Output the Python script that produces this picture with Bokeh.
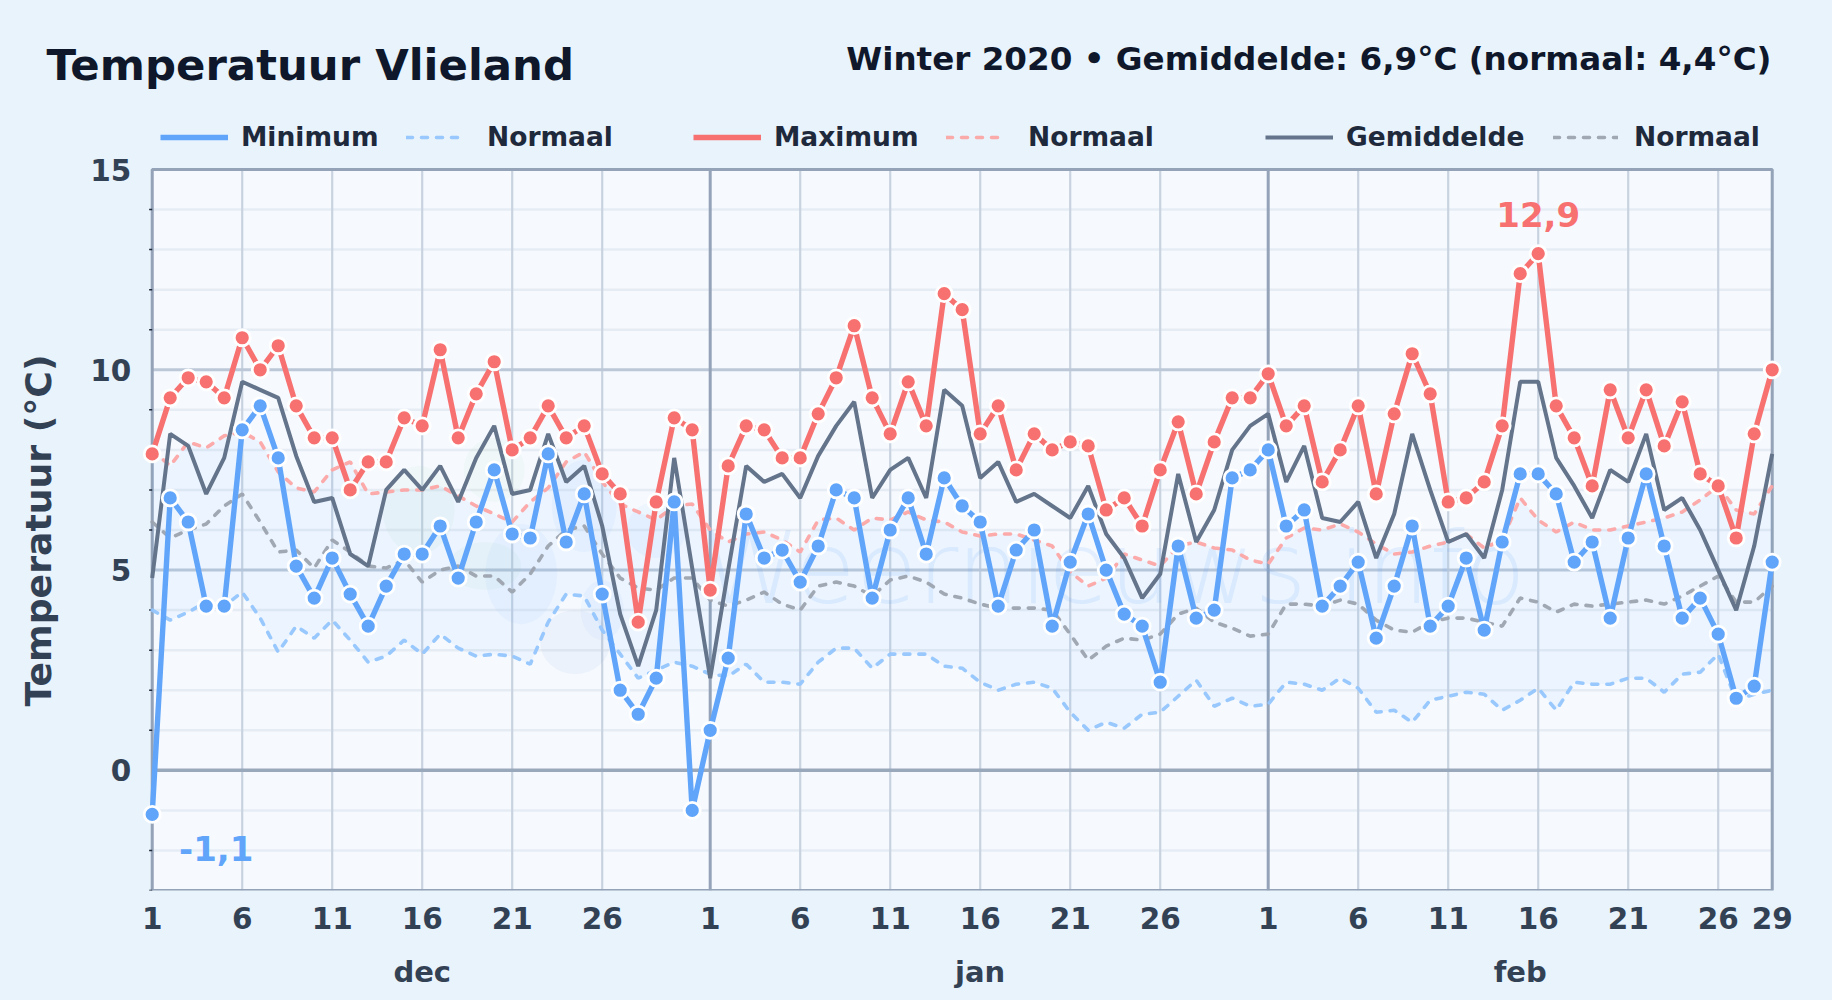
from math import pi
from bokeh.core.properties import value
from bokeh.embed import file_html
from bokeh.models import FixedTicker, Label, Legend, LegendItem, LinearAxis, Range1d
from bokeh.plotting import figure
from bokeh.resources import INLINE

FONT = "DejaVu Sans"
PAGE_BG = "#e8f3fc"

# ---- data -------------------------------------------------------------
t_min = [-1.1, 6.8, 6.2, 4.1, 4.1, 8.5, 9.1, 7.8, 5.1, 4.3, 5.3, 4.4, 3.6, 4.6, 5.4, 5.4, 6.1, 4.8, 6.2, 7.5, 5.9, 5.8, 7.9, 5.7, 6.9, 4.4, 2.0, 1.4, 2.3, 6.7, -1.0,
         1.0, 2.8, 6.4, 5.3, 5.5, 4.7, 5.6, 7.0, 6.8, 4.3, 6.0, 6.8, 5.4, 7.3, 6.6, 6.2, 4.1, 5.5, 6.0, 3.6, 5.2, 6.4, 5.0, 3.9, 3.6, 2.2, 5.6, 3.8, 4.0, 7.3, 7.5,
         8.0, 6.1, 6.5, 4.1, 4.6, 5.2, 3.3, 4.6, 6.1, 3.6, 4.1, 5.3, 3.5, 5.7, 7.4, 7.4, 6.9, 5.2, 5.7, 3.8, 5.8, 7.4, 5.6, 3.8, 4.3, 3.4, 1.8, 2.1, 5.2]
t_max = [7.9, 9.3, 9.8, 9.7, 9.3, 10.8, 10.0, 10.6, 9.1, 8.3, 8.3, 7.0, 7.7, 7.7, 8.8, 8.6, 10.5, 8.3, 9.4, 10.2, 8.0, 8.3, 9.1, 8.3, 8.6, 7.4, 6.9, 3.7, 6.7, 8.8, 8.5,
         4.5, 7.6, 8.6, 8.5, 7.8, 7.8, 8.9, 9.8, 11.1, 9.3, 8.4, 9.7, 8.6, 11.9, 11.5, 8.4, 9.1, 7.5, 8.4, 8.0, 8.2, 8.1, 6.5, 6.8, 6.1, 7.5, 8.7, 6.9, 8.2, 9.3, 9.3,
         9.9, 8.6, 9.1, 7.2, 8.0, 9.1, 6.9, 8.9, 10.4, 9.4, 6.7, 6.8, 7.2, 8.6, 12.4, 12.9, 9.1, 8.3, 7.1, 9.5, 8.3, 9.5, 8.1, 9.2, 7.4, 7.1, 5.8, 8.4, 10.0]
t_mean = [4.8, 8.4, 8.1, 6.9, 7.8, 9.7, 9.5, 9.3, 7.85, 6.7, 6.8, 5.4, 5.1, 7.0, 7.5, 7.0, 7.6, 6.7, 7.8, 8.6, 6.9, 7.0, 8.4, 7.2, 7.6, 6.1, 3.9, 2.6, 4.0, 7.8, 5.05,
          2.3, 5.0, 7.6, 7.2, 7.4, 6.8, 7.85, 8.6, 9.2, 6.8, 7.5, 7.8, 6.8, 9.5, 9.1, 7.3, 7.7, 6.7, 6.9, 6.6, 6.3, 7.1, 5.9, 5.3, 4.3, 4.9, 7.4, 5.7, 6.5, 8.0, 8.6,
          8.9, 7.2, 8.1, 6.3, 6.2, 6.7, 5.3, 6.4, 8.4, 7.0, 5.7, 5.9, 5.3, 7.0, 9.7, 9.7, 7.8, 7.1, 6.3, 7.5, 7.2, 8.4, 6.5, 6.8, 6.0, 5.0, 4.0, 5.6, 7.9]
n_min = [4.0, 3.75, 3.95, 4.2, 4.1, 4.45, 3.8, 2.95, 3.6, 3.3, 3.75, 3.25, 2.7, 2.85, 3.25, 2.9, 3.4, 3.05, 2.85, 2.9, 2.85, 2.65, 3.7, 4.4, 4.35, 3.5, 2.9, 2.3, 2.5, 2.7, 2.6,
         2.4, 2.35, 2.65, 2.2, 2.2, 2.15, 2.7, 3.05, 3.05, 2.55, 2.9, 2.9, 2.9, 2.6, 2.55, 2.2, 2.0, 2.15, 2.2, 2.05, 1.45, 1.0, 1.2, 1.05, 1.4, 1.45, 1.85, 2.25, 1.6, 1.8, 1.6,
         1.65, 2.2, 2.15, 2.0, 2.3, 2.05, 1.45, 1.5, 1.2, 1.75, 1.85, 1.95, 1.9, 1.5, 1.75, 2.05, 1.5, 2.2, 2.15, 2.15, 2.3, 2.3, 1.95, 2.4, 2.45, 2.9, 1.75, 1.9, 2.0]
n_max = [8.0, 7.6, 8.2, 8.05, 8.35, 8.45, 8.2, 7.45, 7.05, 6.95, 7.5, 7.7, 6.9, 6.95, 7.0, 7.0, 7.1, 6.85, 6.6, 6.4, 6.2, 6.7, 7.05, 7.7, 7.95, 7.2, 6.65, 6.45, 6.25, 6.6, 6.65,
         6.0, 5.7, 5.9, 5.95, 5.75, 5.45, 6.25, 6.3, 6.0, 6.3, 6.25, 6.45, 6.25, 6.2, 5.95, 5.85, 5.9, 5.9, 5.75, 5.6, 4.95, 4.6, 4.8, 5.4, 5.25, 5.1, 5.6, 5.7, 5.55, 5.5, 5.25,
         5.15, 5.8, 6.05, 6.0, 6.15, 5.95, 5.65, 5.4, 5.45, 5.6, 5.7, 5.9, 5.55, 5.75, 6.8, 6.25, 5.95, 6.2, 6.0, 6.0, 6.1, 6.2, 6.3, 6.45, 6.75, 7.1, 6.5, 6.4, 7.1]
n_mean = [6.2, 5.8, 6.0, 6.15, 6.6, 6.9, 6.2, 5.45, 5.5, 5.05, 5.75, 5.45, 5.1, 5.05, 5.25, 4.7, 5.0, 5.1, 4.85, 4.85, 4.45, 4.9, 5.6, 6.0, 6.1, 5.4, 4.8, 4.55, 4.5, 4.8, 4.8,
          4.25, 4.1, 4.25, 4.45, 4.15, 4.0, 4.6, 4.7, 4.6, 4.35, 4.75, 4.85, 4.7, 4.4, 4.3, 4.15, 4.05, 4.05, 4.05, 4.0, 3.4, 2.75, 3.1, 3.3, 3.25, 3.4, 3.9, 4.05, 3.7, 3.55, 3.35,
          3.4, 4.15, 4.15, 4.1, 4.25, 4.15, 3.75, 3.5, 3.45, 3.7, 3.8, 3.8, 3.7, 3.6, 4.3, 4.2, 3.95, 4.15, 4.1, 4.15, 4.2, 4.25, 4.15, 4.35, 4.6, 4.85, 4.2, 4.2, 4.6]
days = list(range(len(t_min)))

x_ticks = [0, 5, 10, 15, 20, 25, 31, 36, 41, 46, 51, 56, 62, 67, 72, 77, 82, 87, 90]
x_labels = ["1", "6", "11", "16", "21", "26", "1", "6", "11", "16", "21", "26", "1", "6", "11", "16", "21", "26", "29"]
month_ticks = [15, 46, 76]
month_labels = ["dec", "jan", "feb"]
month_starts = [31, 62]
y_ticks = [0, 5, 10, 15]
y_labels = ["0", "5", "10", "15"]
y_minor = [-3, -2, -1, 1, 2, 3, 4, 6, 7, 8, 9, 11, 12, 13, 14]

# faint logo blobs behind the chart: day, degrees, width, height, colour
blob_x = [14.8, 19.0, 18.5, 20.5, 23.5, 24, 25, 28]
blob_y = [6.5, 7.5, 5.1, 4.9, 3.2, 6.6, 4.0, 6.0]
blob_w = [4.0, 3.4, 4.0, 4.0, 3.9, 3.6, 2.4, 3.3]
blob_h = [2.2, 1.6, 1.2, 2.5, 1.6, 2.3, 1.5, 1.4]
blob_c = ["#86c48a", "#86c48a", "#86c48a", "#60a5fa", "#4f7fb5", "#60a5fa", "#60a5fa", "#60a5fa"]

# ---- figure: the frame fills the canvas down to the x axes -------------
Y0, Y1, X0, X1 = -3, 15, 0, 90
PX_DAY = 18.0
PX_DEG = 721 / 18
LEFT = 151.7
p = figure(width=1832, height=1000, frame_width=1832, frame_height=890,
           min_border_left=0, min_border_right=0, min_border_top=0, min_border_bottom=110,
           x_range=Range1d(-LEFT / PX_DAY, (1832 - LEFT) / PX_DAY), y_range=Range1d(Y0, Y0 + 890 / PX_DEG),
           x_axis_type=None, y_axis_type=None, output_backend="svg", toolbar_location=None,
           background_fill_color=PAGE_BG, border_fill_color=PAGE_BG, outline_line_color=None)

p.quad(left=[X0], right=[X1], bottom=[Y0], top=[Y1], fill_color="#f6faff", line_color=None, level="underlay")


def hlines(ticks, color, width):
    n = len(ticks)
    p.segment([X0] * n, ticks, [X1] * n, ticks, line_color=color, line_width=width, level="underlay")


def vlines(ticks, color, width):
    n = len(ticks)
    p.segment(ticks, [Y0] * n, ticks, [Y1] * n, line_color=color, line_width=width, level="underlay")


hlines(y_minor, "#e6ecf4", 2.5)
vlines([t for t in x_ticks if t not in month_starts], "#c9d3e0", 2.2)
hlines([5, 10], "#bcc8d8", 3)
hlines([0], "#9aa8bb", 3.5)
vlines(month_starts, "#94a3b8", 3)
p.quad(left=[X0], right=[X1], bottom=[Y0], top=[Y1], fill_alpha=0, line_color="#94a3b8", line_width=3, level="underlay")
# small marks left of the frame for each degree
p.segment([X0 - 0.17] * len(y_minor), y_minor, [X0] * len(y_minor), y_minor, line_color="#1e293b", line_width=1.5,
          level="underlay")

# y tick labels
p.text([X0] * len(y_ticks), y_ticks, text=y_labels, text_font=value(FONT), text_font_style="bold",
       text_font_size="29.5px", text_color="#334155", text_align="right", text_baseline="middle", x_offset=-21)

xaxis = LinearAxis(ticker=FixedTicker(ticks=x_ticks),
                   major_label_overrides={t: s for t, s in zip(x_ticks, x_labels)},
                   axis_line_color=None, major_tick_line_color=None, minor_tick_line_color=None,
                   major_label_standoff=10, major_label_text_font=FONT, major_label_text_font_style="bold",
                   major_label_text_font_size="29.5px", major_label_text_color="#334155")
p.add_layout(xaxis, "below")
maxis = LinearAxis(ticker=FixedTicker(ticks=month_ticks),
                   major_label_overrides={t: s for t, s in zip(month_ticks, month_labels)},
                   axis_line_color=None, major_tick_line_color=None, minor_tick_line_color=None,
                   major_label_standoff=17, major_label_text_font=FONT, major_label_text_font_style="bold",
                   major_label_text_font_size="29px", major_label_text_color="#334155")
p.add_layout(maxis, "below")

# logo / watermark
p.ellipse(blob_x, blob_y, width=blob_w, height=blob_h, fill_color=blob_c, fill_alpha=0.06, line_color=None)
p.text([30.5], [5.05], text=["Weernieuws.info"], text_font=value(FONT), text_font_size="100px",
       text_color="#60a5fa", text_alpha=0.13, text_baseline="alphabetic")

# normal band
p.varea(days, n_min, n_max, fill_color="#60a5fa", fill_alpha=0.07)

dash = "6 9"
r_nmin = p.line(days, n_min, line_color="#93c5fd", line_width=3.6, line_dash=dash, line_cap="round", line_alpha=0.95)
r_nmax = p.line(days, n_max, line_color="#fca5a5", line_width=3.6, line_dash=dash, line_cap="round", line_alpha=0.95)
r_nmean = p.line(days, n_mean, line_color="#9ca3af", line_width=3.6, line_dash=dash, line_cap="round", line_alpha=0.95)
r_mean = p.line(days, t_mean, line_color="#64748b", line_width=4)
r_max = p.line(days, t_max, line_color="#f87171", line_width=5.4)
p.scatter(days, t_max, size=16, fill_color="#f87171", line_color="white", line_width=2.8)
r_min = p.line(days, t_min, line_color="#60a5fa", line_width=5.4)
p.scatter(days, t_min, size=16, fill_color="#60a5fa", line_color="white", line_width=2.8)

# extreme labels
i_hi = t_max.index(max(t_max))
i_lo = t_min.index(min(t_min))
for i, v, col, dx, dy in [(i_hi, t_max[i_hi], "#f87171", 0, -39), (i_lo, t_min[i_lo], "#60a5fa", 64, 34)]:
    p.text([i], [v], text=[f"{v:.1f}".replace(".", ",")], text_font=value(FONT), text_font_style="bold",
           text_font_size="34px", text_color=col, text_align="center", text_baseline="middle",
           x_offset=dx, y_offset=dy)


# legend, one block per entry so the uneven spacing can be kept
def legend(label, renderer, x0, glyph, standoff):
    leg = Legend(items=[LegendItem(label=label, renderers=[renderer])], location=(x0, 738),
                 orientation="horizontal", glyph_width=glyph, glyph_height=30, label_height=30,
                 label_standoff=standoff, padding=0, margin=0, spacing=0,
                 background_fill_alpha=0, border_line_alpha=0, label_text_font=FONT,
                 label_text_font_style="bold", label_text_font_size="26.5px", label_text_color="#1e293b")
    p.add_layout(leg, "center")


legend("Minimum", r_min, 160, 68, 13)
legend("Normaal", r_nmin, 406, 58, 23)
legend("Maximum", r_max, 693, 68, 13)
legend("Normaal", r_nmax, 946, 59, 23)
legend("Gemiddelde", r_mean, 1265, 68, 13)
legend("Normaal", r_nmean, 1553, 65, 16)


# screen units here count from the frame's lower-left corner (page x 0, page y 890)
def label(text, page_x, page_y, size, color, align="left", angle=0.0, baseline="alphabetic"):
    p.add_layout(Label(x=page_x, y=890 - page_y, x_units="screen", y_units="screen", text=text, text_font=FONT,
                       text_font_style="bold", text_font_size=size, text_color=color,
                       text_align=align, text_baseline=baseline, angle=angle))


label("Temperatuur Vlieland", 46, 64, "43.4px", "#0f172a")
label("Winter 2020 • Gemiddelde: 6,9°C (normaal: 4,4°C)", 1771, 58, "32.6px", "#0f172a", align="right")
label("Temperatuur (°C)", 37.5, 530, "36.2px", "#334155", align="center", angle=pi / 2, baseline="middle")

TEMPLATE = """
{% block preamble %}<style>html,body{background:#e8f3fc;margin:0;overflow:hidden}</style>{% endblock %}
"""
open("out.html", "w").write(file_html(p, INLINE, template=TEMPLATE))
